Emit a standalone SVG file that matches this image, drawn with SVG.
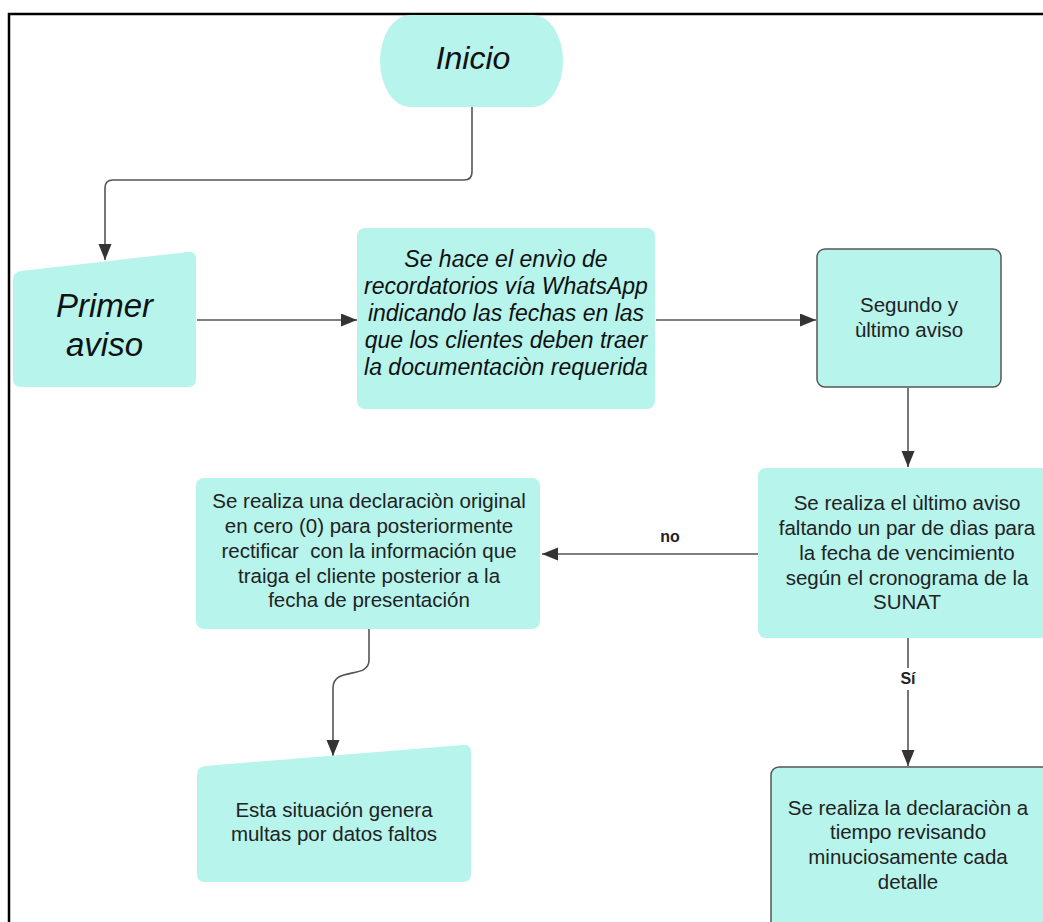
<svg xmlns="http://www.w3.org/2000/svg" width="1043" height="922" viewBox="0 0 1043 922">
<style>
.box{fill:#b6f4ec;}
.stk{stroke:#555;stroke-width:1.5;}
.t{font-family:"Liberation Sans",Arial,sans-serif;font-size:20.5px;fill:#222;text-anchor:middle;}
.ti{font-family:"Liberation Sans",Arial,sans-serif;font-style:italic;fill:#111;text-anchor:middle;}
.lbl{font-family:"Liberation Sans",Arial,sans-serif;font-size:16px;font-weight:bold;fill:#222;text-anchor:middle;}
.c{fill:none;stroke:#555;stroke-width:1.6;}
</style>
<defs>
<marker id="ah" markerUnits="userSpaceOnUse" markerWidth="18" markerHeight="14" refX="16" refY="6.5" orient="auto">
<path d="M0,0 L16,6.5 L0,13 Z" fill="#333"/>
</marker>
</defs>
<rect width="1043" height="922" fill="#fff"/>
<path d="M9,922 V14 H1043" fill="none" stroke="#000" stroke-width="2.5"/>

<g id="connectors">
<path class="c" d="M472,107 V172 Q472,180 464,180 H113 Q105,180 105,188 V260" marker-end="url(#ah)"/>
<path class="c" d="M197,320 H357" marker-end="url(#ah)"/>
<path class="c" d="M656,320 H816" marker-end="url(#ah)"/>
<path class="c" d="M908,388 V467" marker-end="url(#ah)"/>
<path class="c" d="M758,554 H542" marker-end="url(#ah)"/>
<path class="c" d="M369,629 V660 C369,680 333,666 333,688 V756" marker-end="url(#ah)"/>
<path class="c" d="M908,638 V668"/>
<path class="c" d="M908,690 V766" marker-end="url(#ah)"/>
<text class="lbl" x="670" y="542">no</text>
<text class="lbl" x="908" y="684">Sí</text>
</g>

<g id="inicio">
<rect class="box" x="380" y="15" width="183" height="92" rx="30" ry="46"/>
<text class="ti" x="473" y="69" font-size="32">Inicio</text>
</g>

<g id="primer-aviso">
<path class="box" d="M21,271 L188,252 Q196,251 196,259 V379 Q196,387 188,387 H21 Q13,387 13,379 V280 Q13,272 21,271 Z"/>
<text class="ti" x="104.5" y="317" font-size="33">Primer</text>
<text class="ti" x="104.5" y="356" font-size="33">aviso</text>
</g>

<g id="recordatorios">
<rect class="box" x="357" y="228" width="298" height="181" rx="8"/>
<text class="ti" font-size="23" x="506" y="267">Se hace el envìo de</text>
<text class="ti" font-size="23" x="506" y="294">recordatorios vía WhatsApp</text>
<text class="ti" font-size="23" x="506" y="321">indicando las fechas en las</text>
<text class="ti" font-size="23" x="506" y="348">que los clientes deben traer</text>
<text class="ti" font-size="23" x="506" y="375">la documentaciòn requerida</text>
</g>

<g id="segundo">
<rect class="box stk" x="817" y="249" width="184" height="138" rx="8"/>
<text class="t" x="909" y="312">Segundo y</text>
<text class="t" x="909" y="337">ùltimo aviso</text>
</g>

<g id="ultimo-aviso">
<rect class="box" x="758" y="468" width="310" height="170" rx="8"/>
<text class="t" x="907" y="510">Se realiza el ùltimo aviso</text>
<text class="t" x="907" y="535">faltando un par de dìas para</text>
<text class="t" x="907" y="560">la fecha de vencimiento</text>
<text class="t" x="907" y="585">según el cronograma de la</text>
<text class="t" x="907" y="609">SUNAT</text>
</g>

<g id="declaracion-cero">
<rect class="box" x="196" y="478" width="344" height="151" rx="8"/>
<text class="t" x="369" y="508">Se realiza una declaraciòn original</text>
<text class="t" x="369" y="533">en cero (0) para posteriormente</text>
<text class="t" x="369" y="558" style="white-space:pre" xml:space="preserve">rectificar  con la información que</text>
<text class="t" x="369" y="583">traiga el cliente posterior a la</text>
<text class="t" x="369" y="607">fecha de presentación</text>
</g>

<g id="multas">
<path class="box" d="M205,766 L463,745 Q471,744 471,752 V874 Q471,882 463,882 H205 Q197,882 197,874 V775 Q197,767 205,766 Z"/>
<text class="t" x="334" y="817">Esta situación genera</text>
<text class="t" x="334" y="841">multas por datos faltos</text>
</g>

<g id="declaracion-tiempo">
<rect class="box stk" x="771" y="767" width="300" height="180" rx="8"/>
<text class="t" x="908" y="815">Se realiza la declaraciòn a</text>
<text class="t" x="908" y="839">tiempo revisando</text>
<text class="t" x="908" y="864">minuciosamente cada</text>
<text class="t" x="908" y="889">detalle</text>
</g>
</svg>
